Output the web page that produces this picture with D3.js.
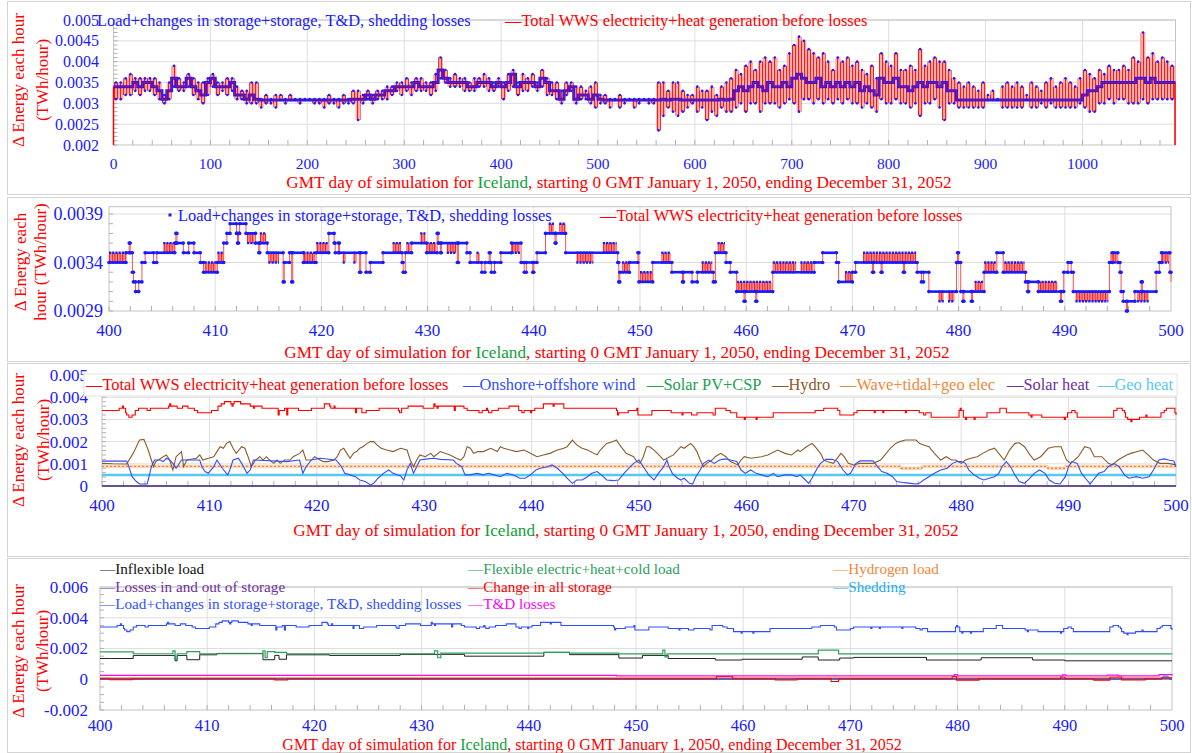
<!DOCTYPE html>
<html><head><meta charset="utf-8">
<script src="https://cdn.jsdelivr.net/npm/d3@7"></script>
<style>
body{margin:0;background:#fff}
svg{display:block}
</style></head><body>
<script>
// ================= DATA (energy values in GWh per hour; 1 GWh = 0.001 TWh) =================
// Panel 1: 5-day bins from day 0 to day 1096 — typical level, low and high of the hour values
const p1Base=[3.4,3.4,3.4,3.4,3.5,3.4,3.5,3.5,3.4,3.3,
 3.1,3.3,3.6,3.4,3.4,3.6,3.4,3.3,3.2,3.5,
 3.6,3.4,3.4,3.4,3.5,3.2,3.2,3.1,3.2,3.1,
 3.08,3.08,3.08,3.08,3.08,3.08,3.08,3.08,3.08,3.08,
 3.08,3.08,3.08,3.08,3.08,3.08,3.08,3.08,3.08,3.1,
 3.1,3.1,3.2,3.1,3.2,3.2,3.3,3.3,3.4,3.4,
 3.4,3.4,3.5,3.4,3.4,3.4,3.5,3.8,3.6,3.5,
 3.5,3.5,3.5,3.4,3.4,3.5,3.5,3.5,3.4,3.5,
 3.4,3.5,3.7,3.4,3.5,3.5,3.5,3.4,3.6,3.5,
 3.3,3.3,3.1,3.3,3.4,3.1,3.2,3.2,3.1,3.2,
 3.1,3.08,3.08,3.08,3.08,3.08,3.08,3.08,3.08,3.08,
 3.08,3.08,3.08,3.1,3.08,3.1,3.1,3.08,3.08,3.08,
 3.08,3.08,3.08,3.08,3.08,3.1,3.08,3.1,3.3,3.4,
 3.3,3.4,3.5,3.4,3.3,3.5,3.4,3.4,3.5,3.4,
 3.6,3.7,3.6,3.5,3.5,3.6,3.4,3.5,3.4,3.5,
 3.4,3.5,3.4,3.5,3.3,3.4,3.3,3.2,3.6,3.5,
 3.5,3.6,3.4,3.4,3.3,3.4,3.5,3.4,3.5,3.5,
 3.4,3.5,3.3,3.3,3.08,3.08,3.08,3.08,3.08,3.08,
 3.08,3.08,3.08,3.08,3.08,3.08,3.08,3.08,3.08,3.08,
 3.08,3.08,3.08,3.08,3.08,3.08,3.08,3.08,3.08,3.08,
 3.2,3.3,3.3,3.4,3.5,3.5,3.5,3.5,3.5,3.5,
 3.5,3.6,3.6,3.5,3.6,3.5,3.5,3.5,3.5];
const p1Lo=[3.1,3.1,3.2,3.2,3.3,3.2,3.3,3.3,3.2,3.1,
 3.0,3.1,3.4,3.3,3.3,3.4,3.2,3.1,3.0,3.2,
 3.4,3.2,3.3,3.2,3.3,3.1,3.1,3.0,3.0,3.0,
 2.9,3.0,3.0,2.9,3.08,3.0,3.08,3.08,3.0,3.08,
 3.08,3.0,3.0,2.9,3.0,3.0,2.9,3.0,3.0,3.0,
 2.6,3.0,3.1,3.0,3.1,3.1,3.1,3.2,3.3,3.2,
 3.3,3.2,3.3,3.3,3.3,3.2,3.3,3.6,3.5,3.4,
 3.4,3.4,3.3,3.3,3.3,3.4,3.4,3.3,3.3,3.4,
 3.1,3.3,3.4,3.2,3.3,3.3,3.4,3.3,3.4,3.2,
 3.2,3.1,3.0,3.2,3.3,3.0,3.1,3.1,3.0,2.9,
 3.0,3.0,2.9,3.08,2.9,3.0,3.08,2.9,3.0,3.08,
 3.0,3.0,2.35,2.7,2.9,2.8,2.7,2.8,2.9,3.0,
 2.8,2.9,2.6,2.8,2.7,2.9,2.8,2.8,2.9,3.0,
 2.8,3.0,3.0,2.8,3.0,3.0,3.0,2.9,3.0,3.1,
 3.0,2.8,3.1,3.1,3.0,3.1,3.0,3.1,3.0,3.1,
 3.0,3.1,3.0,3.0,2.9,3.0,2.9,2.8,3.1,3.0,
 3.0,3.1,3.0,3.0,2.9,3.0,2.7,3.0,3.0,3.1,
 2.9,2.6,3.0,3.0,2.9,2.9,2.9,2.9,2.9,2.9,
 3.08,3.08,3.08,2.9,2.9,2.9,2.9,2.9,3.08,2.9,
 2.9,3.0,2.9,3.0,2.9,2.9,2.9,2.9,2.9,3.0,
 2.9,2.8,2.8,3.0,3.0,3.1,3.0,3.1,3.1,3.0,
 3.0,3.0,3.1,3.0,3.1,3.1,3.1,3.1,3.1];
const p1Hi=[3.5,3.5,3.6,3.7,3.6,3.6,3.6,3.6,3.6,3.5,
 3.2,3.5,3.9,3.6,3.5,3.7,3.6,3.5,3.5,3.6,
 3.7,3.5,3.5,3.6,3.6,3.4,3.3,3.3,3.5,3.5,
 3.1,3.2,3.1,3.2,3.2,3.1,3.2,3.1,3.1,3.1,
 3.1,3.1,3.1,3.1,3.2,3.1,3.1,3.2,3.1,3.3,
 3.3,3.2,3.3,3.2,3.3,3.3,3.4,3.4,3.5,3.5,
 3.6,3.5,3.6,3.6,3.5,3.5,3.7,4.1,3.8,3.6,
 3.7,3.6,3.6,3.5,3.6,3.6,3.7,3.6,3.5,3.6,
 3.5,3.7,3.8,3.5,3.7,3.6,3.7,3.5,3.8,3.6,
 3.5,3.5,3.3,3.5,3.5,3.4,3.4,3.3,3.4,3.5,
 3.2,3.2,3.1,3.1,3.2,3.1,3.1,3.1,3.1,3.1,
 3.1,3.1,3.5,3.5,3.3,3.5,3.5,3.3,3.2,3.2,
 3.4,3.3,3.3,3.4,3.2,3.4,3.5,3.6,3.8,3.7,
 3.9,4.0,3.8,4.0,4.1,4.0,4.1,3.8,3.9,4.2,
 4.4,4.6,4.5,4.3,4.2,4.1,4.2,4.0,3.8,4.1,
 4.0,4.1,3.9,4.0,3.8,3.7,3.9,3.6,4.2,4.0,
 3.9,4.2,3.8,3.8,3.9,3.8,4.3,3.9,4.0,4.1,
 4.0,4.0,3.8,3.6,3.5,3.4,3.5,3.4,3.3,3.5,
 3.2,3.3,3.1,3.4,3.5,3.4,3.5,3.4,3.2,3.5,
 3.4,3.3,3.5,3.6,3.4,3.5,3.6,3.5,3.4,3.6,
 3.8,3.7,3.6,3.8,3.7,3.9,3.8,3.8,3.9,3.8,
 4.1,4.0,4.7,4.1,4.2,4.0,4.1,4.0,3.9];
const p1EndDrops=[[0,2.0],[1095.5,2.0]];
const p1XTicks=[0,100,200,300,400,500,600,700,800,900,1000];
const p1YTicks=[0.002,0.0025,0.003,0.0035,0.004,0.0045,0.005];

// Panel 2 (also the red line of panel 3 and blue line of panel 4): [day, level]
const p2Steps=[[400.0,3.4],[401.6,3.5],[401.9,3.6],[402.0,3.5],[402.2,3.3],[402.3,3.2],[402.5,3.1],[402.8,3.2],[403.1,3.4],[403.4,3.5],
 [404.2,3.4],[404.5,3.5],[406.2,3.6],[406.3,3.7],[406.4,3.6],[407.0,3.5],[407.5,3.6],[408.0,3.5],[408.6,3.4],[408.9,3.3],
 [410.2,3.4],[410.8,3.6],[411.1,3.7],[411.4,3.8],[412.0,3.7],[412.1,3.6],[412.2,3.7],[412.3,3.8],[412.9,3.7],[413.8,3.6],
 [414.1,3.5],[414.2,3.6],[414.9,3.5],[416.4,3.2],[416.5,3.4],[417.0,3.5],[417.2,3.2],[417.3,3.5],[418.3,3.4],[419.5,3.5],
 [420.7,3.7],[421.2,3.6],[421.3,3.5],[421.6,3.6],[421.7,3.5],[423.6,3.3],[423.7,3.5],[424.2,3.3],[424.6,3.4],[425.8,3.5],
 [427.6,3.4],[427.7,3.3],[427.9,3.5],[428.5,3.6],[429.9,3.5],[430.9,3.7],[431.0,3.6],[431.2,3.5],[431.3,3.6],[432.8,3.4],
 [432.9,3.6],[433.7,3.5],[434.0,3.4],[435.1,3.3],[435.4,3.4],[435.8,3.5],[435.9,3.4],[436.0,3.3],[436.3,3.4],[436.9,3.5],
 [437.9,3.6],[438.8,3.4],[439.1,3.3],[439.3,3.4],[439.9,3.3],[440.0,3.4],[440.3,3.5],[441.1,3.7],[442.0,3.6],[442.1,3.7],
 [443.0,3.5],[447.9,3.4],[448.0,3.2],[448.1,3.3],[449.0,3.4],[449.8,3.5],[449.9,3.2],[451.2,3.4],[453.0,3.3],[454.0,3.2],
 [454.1,3.3],[454.9,3.2],[455.4,3.3],[456.9,3.2],[457.1,3.5],[458.1,3.4],[458.5,3.3],[459.1,3.1],[459.8,3.0],[459.9,3.1],
 [460.9,3.0],[461.0,3.1],[462.5,3.3],[466.4,3.4],[467.2,3.5],[468.5,3.4],[468.7,3.2],[470.0,3.3],[470.3,3.4],[471.9,3.3],
 [472.0,3.4],[472.7,3.3],[472.8,3.4],[474.8,3.3],[474.9,3.4],[476.1,3.3],[476.5,3.2],[476.7,3.3],[477.2,3.1],[479.8,3.4],
 [479.9,3.5],[480.0,3.4],[480.2,3.1],[480.4,3.0],[480.5,3.1],[481.2,3.0],[481.3,3.1],[482.4,3.3],[483.6,3.5],[484.2,3.3],
 [486.3,3.2],[486.5,3.1],[486.6,3.2],[487.5,3.1],[489.6,3.0],[489.7,3.1],[489.9,3.3],[490.3,3.4],[490.6,3.3],[490.8,3.1],
 [494.2,3.4],[494.5,3.5],[495.0,3.4],[495.2,3.3],[495.3,3.1],[495.5,3.0],[495.8,2.9],[495.9,3.0],[496.6,3.1],[497.2,3.2],
 [497.3,3.1],[498.6,3.3],[498.9,3.4],[499.1,3.5],[499.9,3.3],[500.0,3.2]];
// hour-to-hour flicker between two levels: [from day, to day, low, high]
const p2Flicker=[[400.0,401.6,3.4,3.5],[405.1,406.2,3.5,3.6],[409.0,410.1,3.3,3.4],[410.2,410.8,3.4,3.5],[413.0,413.7,3.6,3.7],
 [414.2,414.8,3.6,3.7],[415.0,416.0,3.4,3.5],[418.3,419.4,3.4,3.5],[419.5,420.6,3.5,3.6],[422.0,422.3,3.4,3.5],
 [423.0,423.3,3.4,3.5],[426.7,427.5,3.5,3.6],[428.0,428.4,3.5,3.6],[429.3,429.8,3.6,3.7],[429.9,430.8,3.5,3.6],
 [431.8,432.7,3.5,3.6],[434.6,434.9,3.4,3.5],[437.9,438.7,3.5,3.6],[441.4,441.9,3.7,3.8],[442.4,443.0,3.7,3.8],
 [444.0,445.6,3.4,3.5],[446.5,447.8,3.5,3.6],[448.3,449.0,3.3,3.4],[450.0,451.2,3.2,3.3],[452.0,452.9,3.4,3.5],
 [455.8,456.8,3.3,3.4],[457.3,458.0,3.5,3.6],[459.1,462.4,3.1,3.2],[462.5,464.7,3.3,3.4],[465.1,466.3,3.3,3.4],
 [469.3,470.0,3.2,3.3],[471.0,476.0,3.4,3.5],[478.1,478.6,3.0,3.1],[479.0,479.6,3.0,3.1],[481.5,482.3,3.1,3.2],
 [482.4,483.5,3.3,3.4],[484.3,486.2,3.3,3.4],[487.5,489.3,3.1,3.2],[491.0,494.1,3.0,3.1],[494.3,494.9,3.4,3.5],
 [496.8,497.9,3.0,3.1],[499.1,499.8,3.4,3.5]];
const dayTicks=[400,410,420,430,440,450,460,470,480,490,500];
const p2YTicks=[0.0029,0.0034,0.0039];

// Panel 3: generation by source [day, GWh]
const hydro=[[400.0,1.02],[401.0,1.0],[402.3,0.99],[402.9,1.47],[403.5,2.07],[403.9,2.1],[404.3,1.62],[404.6,1.17],[404.8,0.87],[405.0,1.1],
 [405.7,1.32],[406.0,1.4],[406.3,1.17],[406.6,0.72],[406.9,1.32],[407.4,1.55],[407.6,0.87],[407.9,1.17],[408.8,1.25],[409.1,1.4],
 [409.4,1.17],[409.9,1.25],[410.4,1.32],[410.7,1.55],[411.0,1.77],[411.3,1.7],[411.6,1.92],[411.9,2.0],[412.2,1.7],[412.5,1.47],
 [413.0,1.77],[413.3,1.7],[413.6,1.32],[413.9,0.87],[414.3,1.17],[414.7,1.32],[415.0,1.17],[415.3,1.32],[415.6,1.17],[416.0,1.02],
 [416.3,1.17],[416.6,1.02],[417.0,1.17],[417.5,1.17],[417.8,1.32],[418.4,1.47],[418.7,1.62],[419.0,1.17],[419.5,1.17],[419.8,1.32],
 [420.3,1.17],[420.6,1.1],[421.0,1.1],[421.6,1.17],[421.9,1.32],[422.2,1.62],[422.5,1.7],[422.8,1.47],[423.1,1.25],[423.4,1.47],
 [423.7,1.55],[424.0,1.7],[424.3,1.77],[424.7,1.92],[425.0,2.0],[425.3,2.0],[425.6,1.85],[426.0,1.7],[426.5,1.62],[427.1,1.55],
 [427.8,1.7],[428.4,1.62],[428.7,1.17],[429.0,0.87],[429.3,1.17],[429.6,1.4],[430.1,1.32],[430.6,1.47],[430.9,1.32],[431.5,1.55],
 [432.4,1.4],[433.0,1.25],[433.4,1.17],[433.7,1.32],[434.0,1.77],[434.3,1.7],[434.6,1.47],[435.0,1.55],[435.5,1.55],[436.2,1.7],
 [436.8,1.55],[437.1,1.77],[437.4,1.7],[438.0,1.62],[438.6,1.55],[439.3,1.62],[440.2,1.4],[440.5,1.32],[441.1,1.4],[441.7,1.47],
 [442.4,1.62],[443.0,1.7],[443.3,1.77],[443.8,2.07],[444.2,1.85],[444.7,1.7],[445.2,1.62],[445.8,1.47],[446.1,1.4],[446.4,1.62],
 [446.7,1.77],[447.0,1.92],[447.6,2.0],[447.9,2.07],[448.2,1.85],[448.8,1.47],[449.5,1.32],[449.8,1.1],[450.1,1.02],[450.4,1.32],
 [450.7,1.77],[451.0,1.77],[451.4,1.62],[452.0,1.32],[452.3,1.17],[452.6,1.25],[453.2,1.4],[453.9,1.77],[454.2,1.7],[454.8,1.92],
 [455.1,1.77],[455.4,1.55],[455.7,1.17],[456.0,0.87],[456.3,1.02],[456.8,1.17],[457.1,1.32],[457.6,1.47],[458.1,1.32],[458.5,1.1],
 [459.2,0.95],[459.5,1.17],[459.8,1.32],[460.4,1.25],[461.4,1.32],[462.0,1.4],[462.9,1.62],[463.6,1.47],[464.2,1.4],[464.8,1.62],
 [465.0,1.55],[465.6,1.77],[466.1,1.92],[466.4,1.77],[466.9,1.47],[467.2,1.17],[467.5,1.1],[468.1,1.02],[468.8,1.47],[469.1,1.32],
 [469.5,1.02],[470.0,0.95],[470.5,1.02],[471.2,1.02],[471.8,1.02],[472.5,1.17],[472.9,1.4],[473.4,1.7],[473.9,1.92],[474.3,2.0],
 [474.8,2.07],[475.3,2.07],[475.8,2.07],[476.1,1.92],[476.5,1.85],[477.0,1.77],[477.5,1.47],[478.1,1.17],[478.6,1.32],[479.1,1.17],
 [479.5,1.17],[480.0,1.02],[480.4,1.17],[480.9,1.25],[481.5,1.32],[482.0,1.47],[482.6,1.62],[483.1,1.7],[483.5,1.47],[484.0,1.17],
 [484.5,1.62],[485.0,1.92],[485.4,1.95],[485.9,1.77],[486.4,1.4],[486.8,1.17],[487.4,1.32],[488.1,1.7],[488.7,1.77],[489.3,1.77],
 [489.8,1.17],[490.2,1.02],[490.9,1.32],[491.5,1.77],[492.0,1.7],[492.4,1.32],[493.1,1.32],[493.7,1.02],[494.1,0.95],[494.6,1.17],
 [495.4,1.4],[495.8,1.47],[496.4,1.55],[496.9,1.62],[497.4,1.4],[497.9,1.17],[498.5,1.02],[499.3,1.02],[500.0,0.95]];
const wind=[[400.0,1.12],[402.3,1.12],[402.5,0.87],[402.8,0.42],[403.2,0.2],[403.5,0.09],[404.2,0.09],[404.3,0.27],[404.6,0.87],[404.9,1.17],
 [405.4,1.17],[405.7,1.1],[406.0,1.25],[406.3,1.17],[406.6,1.02],[406.9,0.8],[407.4,1.17],[409.1,1.17],[409.3,0.87],[409.6,0.65],
 [409.9,0.57],[410.4,0.87],[410.7,1.17],[411.2,0.8],[411.7,0.5],[411.9,0.72],[412.2,1.17],[412.7,1.25],[413.0,1.02],[413.5,0.57],
 [413.8,0.72],[414.1,1.17],[417.2,1.1],[418.4,1.17],[418.7,0.57],[419.0,0.87],[419.5,1.17],[420.3,1.25],[421.8,1.17],[422.3,0.87],
 [422.6,0.57],[423.1,0.5],[423.6,0.42],[424.0,0.27],[424.5,0.2],[425.0,0.05],[425.3,0.12],[425.7,0.35],[426.2,0.57],[426.7,0.72],
 [427.1,0.57],[427.8,0.45],[428.1,0.27],[428.4,0.72],[428.7,1.02],[429.0,0.57],[429.3,0.87],[429.6,1.17],[430.3,1.22],[430.9,1.25],
 [431.5,1.2],[432.7,1.17],[433.0,1.02],[433.5,0.87],[433.8,0.5],[434.3,0.5],[434.9,0.57],[435.5,0.5],[436.0,0.57],[436.5,0.5],
 [437.1,0.42],[437.7,0.57],[438.3,0.5],[438.9,0.35],[439.4,0.35],[439.9,0.5],[440.4,0.72],[440.8,0.8],[441.5,0.87],[441.9,0.95],
 [442.4,0.8],[442.9,0.57],[443.3,0.35],[443.8,0.12],[444.2,0.27],[444.7,0.27],[445.2,0.42],[445.6,0.57],[446.1,0.65],[446.5,0.5],
 [447.0,0.27],[447.6,0.24],[448.1,0.27],[448.6,0.57],[449.2,0.87],[449.5,1.02],[450.0,1.17],[450.4,0.87],[450.9,0.5],[451.4,0.27],
 [451.8,0.57],[452.3,0.87],[452.6,1.17],[452.8,0.87],[453.1,0.57],[453.6,0.35],[453.9,0.27],[454.2,0.35],[454.7,0.12],[455.0,0.09],
 [455.3,0.42],[455.7,0.72],[456.0,1.02],[456.5,1.17],[457.0,1.02],[457.5,1.17],[458.0,1.22],[458.5,1.17],[459.1,1.1],[459.5,0.72],
 [459.9,0.57],[460.4,0.72],[460.9,0.57],[461.4,0.5],[462.0,0.42],[462.5,0.57],[462.9,0.42],[463.6,0.5],[464.2,0.5],[464.7,0.42],
 [465.0,0.5],[465.5,0.27],[465.8,0.12],[466.1,0.35],[466.6,0.8],[466.9,1.02],[467.4,1.2],[468.0,1.2],[468.5,1.1],[469.0,0.72],
 [469.4,0.5],[469.7,0.57],[470.2,1.02],[470.6,1.13],[471.8,1.14],[472.2,0.87],[472.6,0.65],[473.1,0.57],[473.6,0.42],[474.0,0.2],
 [474.7,0.15],[475.3,0.12],[475.8,0.09],[476.1,0.12],[476.5,0.27],[477.0,0.42],[477.5,0.57],[478.1,0.72],[478.7,0.8],[479.2,1.02],
 [479.6,1.1],[480.0,1.1],[480.4,1.02],[480.7,0.72],[481.2,0.5],[481.7,0.35],[482.1,0.27],[482.6,0.35],[483.1,0.42],[483.5,0.57],
 [483.8,0.87],[484.2,1.1],[484.6,0.87],[485.0,0.5],[485.4,0.2],[485.9,0.12],[486.4,0.35],[486.8,0.57],[487.3,0.72],[487.8,0.57],
 [488.2,0.27],[488.7,0.12],[489.2,0.09],[489.7,0.42],[490.0,0.87],[490.3,1.1],[490.8,1.02],[491.2,0.57],[491.7,0.27],[492.0,0.09],
 [492.3,0.27],[492.8,0.57],[493.3,0.65],[493.7,0.87],[494.2,1.02],[494.7,0.87],[495.2,0.5],[495.6,0.35],[496.3,0.42],[496.9,0.35],
 [497.5,0.42],[497.9,0.72],[498.4,1.17],[498.9,1.22],[499.3,1.17],[499.8,1.13],[500.0,0.87]];
const waveTidalGeo=[[400,0.88],[474.3,0.88],[474.4,0.8],[476.3,0.8],[476.4,0.88],[488.0,0.88],[488.1,0.8],[489.6,0.8],[489.7,0.88],[500,0.88]];
const geoHeat=[[400,0.5],[500,0.5]];
const solarHeat=[[400,0],[500,0]];
const solarPV=[[400,0],[500,0]];
const p3YTicks=[0,0.001,0.002,0.003,0.004,0.005];

// Panel 4: loads and losses [day, GWh]
const inflexLoad=[[400,1.35],[400.9,1.35],[403.1,1.55],[406.8,1.55],[407.0,1.2],[407.2,1.55],[408.1,1.27],[409.3,1.59],[410.9,1.68],
 [415.2,1.27],[416.3,1.55],[416.7,1.3],[417.4,1.59],[421.4,1.55],[428,1.62],[434,1.5],[441.4,1.75],[443.8,1.6],[448.4,1.38],
 [450.6,1.55],[453,1.35],[457.4,1.25],[459.9,1.3],[465.5,1.45],[467,1.25],[469,1.38],[470.3,1.42],[477.1,1.25],[482.2,1.4],
 [487,1.25],[490,1.2],[500,1.2]];
const flexLoad=[[400,1.78],[403.1,1.66],[406.8,1.85],[407.0,1.3],[407.2,1.66],[408.1,1.8],[409.3,1.66],[415.2,1.85],[415.4,1.4],
 [415.6,1.8],[416.3,1.75],[417.4,1.66],[431.2,1.85],[431.5,1.4],[431.8,1.7],[441.4,1.75],[443.8,1.7],[448.4,1.65],[452.5,1.9],
 [452.7,1.45],[452.9,1.65],[467.0,1.9],[468.9,1.65],[500,1.65]];
const hydrogenLoad=[[400,0.08],[500,0.08]];
const storageLosses=[[400,0.02],[500,0.02]];
const storageChange=[[400,0.03],[400.9,-0.03],[403,0.03],[416.3,-0.05],[417.5,0.03],[457.5,0.18],[459,0.03],[463,-0.05],[465,0.03],
 [468.2,-0.15],[468.9,0.03],[479.5,0.18],[479.9,-0.06],[482,0.03],[489.6,0.15],[490,0.03],[492.7,-0.06],[494.2,0.15],[495.3,-0.05],
 [497.5,0.03],[499,0.1],[500,0.1]];
const shedding=[[400,0],[499.0,0],[499.2,0.2],[499.6,0.2],[499.8,0],[500,0]];
const tdLosses=[[400,0.25],[448,0.25],[448.2,0.22],[479.5,0.22],[479.7,0.3],[480,0.22],[489.8,0.28],[490.1,0.22],[494,0.27],[495,0.22],[498.8,0.3],[500,0.25]];
const p4YTicks=[-0.002,0,0.002,0.004,0.006];

// Text
const xTitleParts=["GMT day of simulation for ","Iceland",", starting 0 GMT January 1, 2050, ending December 31, 2052"];
const loadName="Load+changes in storage+storage, T&D, shedding losses";
const genName="Total WWS electricity+heat generation before losses";

// ================= DRAWING =================
const FONT='"Liberation Serif","Times New Roman",Times,serif';
const C={red:"#ff0000",blue:"#1a1aff",tick:"#1a1aff",green:"#12a03c",grid:"#dedede",frame:"#c4c4c4",
 brown:"#8b5a2b",orange:"#f0883a",purple:"#7030a0",geo:"#55c8f5",pv:"#22a050",flex:"#2ca05a",magenta:"#ff00ff",shed:"#1ab0f0",wind:"#2f4fff"};
const G=v=>v/1000; // GWh -> TWh
const W=1192,H=753;
const svg=d3.select("body").append("svg").attr("width",W).attr("height",H).style("font-family",FONT);
svg.append("rect").attr("width",W).attr("height",H).attr("fill","#fff");
const defs=svg.append("defs");
function hatch(id,w,bg,fg,sw){
  const p=defs.append("pattern").attr("id",id).attr("patternUnits","userSpaceOnUse").attr("width",w).attr("height",8);
  p.append("rect").attr("width",w).attr("height",8).attr("fill",bg);
  p.append("rect").attr("width",sw).attr("height",8).attr("fill",fg);
}
hatch("hatch",2.6,"#ff9c9c","#ff1010",1.1);
hatch("hatch1",3,"#ffb4b4","#ff1a1a",1.1);

// panel borders
[[7,1,1190,194],[7,197,1190,361],[7,363,1190,556],[7,558,1190,752]].forEach(b=>
 svg.append("rect").attr("x",b[0]+0.5).attr("y",b[1]+0.5).attr("width",b[2]-b[0]).attr("height",b[3]-b[1]).attr("fill","none").attr("stroke","#d4d4d4"));

const fmtNum=v=>String(+v.toFixed(5));
function frame(c){
  const g=svg.append("g");
  const [L,R]=c.x.range(), [B,T]=c.y.range();
  g.selectAll("line.gx").data(c.xGrid).join("line").attr("class","gx").attr("x1",d=>c.x(d)).attr("x2",d=>c.x(d)).attr("y1",T).attr("y2",B).attr("stroke",C.grid);
  g.selectAll("line.gy").data(c.yGrid).join("line").attr("class","gy").attr("x1",L).attr("x2",R).attr("y1",d=>c.y(d)).attr("y2",d=>c.y(d)).attr("stroke",C.grid);
  g.append("rect").attr("x",L).attr("y",T).attr("width",R-L).attr("height",B-T).attr("fill","none").attr("stroke",C.frame);
  g.selectAll("line.mx").data(c.xMinor).join("line").attr("class","mx").attr("x1",d=>c.x(d)).attr("x2",d=>c.x(d)).attr("y1",B).attr("y2",B-5).attr("stroke","#b0b0b0");
  g.selectAll("line.my").data(c.yMinor).join("line").attr("class","my").attr("x1",L).attr("x2",L+4).attr("y1",d=>c.y(d)).attr("y2",d=>c.y(d)).attr("stroke","#b0b0b0");
  g.selectAll("text.tx").data(c.xTicks).join("text").attr("class","tx").attr("x",d=>c.x(d)).attr("y",c.xLabelY).attr("text-anchor","middle")
    .attr("font-size",c.xSize).attr("fill",C.tick).text(d=>d);
  g.selectAll("text.ty").data(c.yTicks).join("text").attr("class","ty").attr("x",c.yLabelX).attr("y",d=>c.y(d)).attr("dy","0.35em").attr("text-anchor","end")
    .attr("font-size",c.ySize).attr("fill",C.tick).text(fmtNum);
}
function xTitle(cx,y,size){
  const t=svg.append("text").attr("x",cx).attr("y",y).attr("text-anchor","middle").attr("font-size",size);
  xTitleParts.forEach((s,i)=>t.append("tspan").attr("fill",i===1?C.green:C.red).text(s));
}
function yTitle(lines,xs,cy,size){
  lines.forEach((s,i)=>svg.append("text").attr("transform",`translate(${xs[i]},${cy}) rotate(-90)`).attr("text-anchor","middle")
    .attr("dy","0.35em").attr("font-size",size).attr("fill",C.red).text(s));
}
function legend(x,y,s,color,size,dash=true){
  svg.append("text").attr("x",x).attr("y",y).attr("font-size",size).attr("fill",color).text((dash?"—":"")+s);
}
function pathOf(data,x,y,color,width,opts={}){
  const ln=d3.line().x(d=>x(d[0])).y(d=>y(G(d[1])));
  if(opts.step) ln.curve(d3.curveStepAfter);
  const p=svg.append("path").attr("d",ln(data)).attr("fill","none").attr("stroke",color).attr("stroke-width",width);
  if(opts.dash) p.attr("stroke-dasharray",opts.dash);
  if(opts.op) p.attr("stroke-opacity",opts.op);
  return p;
}

// ---------- Panel 1 ----------
const x1=d3.scaleLinear([0,1096],[113.5,1175.5]);
const y1=d3.scaleLinear([0.002,0.005],[145,20]);
frame({x:x1,y:y1,xTicks:p1XTicks,yTicks:p1YTicks,xGrid:p1XTicks.slice(1),yGrid:p1YTicks.slice(1),
  xMinor:d3.range(0,1096,20),yMinor:d3.range(0.002,0.005,0.0001),xLabelY:169,yLabelX:99,xSize:15.5,ySize:16});
const bins=p1Base.map((b,i)=>({d0:i*5,b,lo:p1Lo[i],hi:p1Hi[i]}));
const last=bins[bins.length-1];
const bandData=bins.concat([{d0:1096,b:last.b,lo:last.lo,hi:last.hi}]);
svg.append("path").attr("d",d3.area().x(d=>x1(d.d0)).y0(d=>y1(G(d.lo))).y1(d=>y1(G(d.hi))).curve(d3.curveStepAfter)(bandData))
  .attr("fill","url(#hatch1)");
p1EndDrops.forEach(([d,v],i)=>svg.append("line").attr("x1",x1(d)).attr("x2",x1(d)).attr("y1",y1(G(bins[i?bins.length-1:0].b))).attr("y2",y1(G(v)))
  .attr("stroke",C.red).attr("stroke-width",1.5));
svg.append("path").attr("d",d3.line().x(d=>x1(d.d0)).y(d=>y1(G(d.b))).curve(d3.curveStepAfter)(bandData))
  .attr("fill","none").attr("stroke",C.blue).attr("stroke-width",3);
svg.append("path").attr("d",d3.line().x(d=>x1(d.d0)).y(d=>y1(G(d.b))).curve(d3.curveStepAfter)(bandData))
  .attr("fill","none").attr("stroke",C.red).attr("stroke-width",0.7);
svg.append("g").selectAll("circle").data(bins.flatMap(k=>[[k.d0+2.5,k.lo],[k.d0+2.5,k.hi]])).join("circle")
  .attr("cx",d=>x1(d[0])).attr("cy",d=>y1(G(d[1]))).attr("r",1.3).attr("fill",C.blue);
legend(97,26,loadName,C.blue,16.4,false);
legend(505,26,genName,C.red,16.4);
xTitle(619,188,17.2);
yTitle(["Δ Energy each hour","(TWh/hour)"],[18,42],80,17);

// ---------- Panel 2 ----------
const x2=d3.scaleLinear([400,500],[109,1171]);
const y2=d3.scaleLinear([0.0029,0.003975],[311,206.7]);
frame({x:x2,y:y2,xTicks:dayTicks,yTicks:p2YTicks,xGrid:dayTicks.slice(1,-1),yGrid:[0.0034,0.0039],
  xMinor:d3.range(400,500,2),yMinor:d3.range(0.0029,0.00397,0.0001),xLabelY:336,yLabelX:103,xSize:17,ySize:18});
svg.append("g").selectAll("rect").data(p2Flicker).join("rect")
  .attr("x",d=>x2(d[0])).attr("width",d=>x2(d[1])-x2(d[0])).attr("y",d=>y2(G(d[3]))).attr("height",d=>y2(G(d[2]))-y2(G(d[3])))
  .attr("fill","url(#hatch)");
svg.append("g").selectAll("line").data(p2Flicker.flatMap(d=>[[d[0],d[1],d[2]],[d[0],d[1],d[3]]])).join("line")
  .attr("x1",d=>x2(d[0])).attr("x2",d=>x2(d[1])).attr("y1",d=>y2(G(d[2]))).attr("y2",d=>y2(G(d[2])))
  .attr("stroke",C.blue).attr("stroke-width",2.4).attr("stroke-dasharray","2.2,1");
pathOf(p2Steps,x2,y2,"#ff5050",1,{step:true});
const segs=p2Steps.slice(0,-1).map((d,i)=>[d[0],p2Steps[i+1][0],d[1]]);
svg.append("g").selectAll("line").data(segs).join("line")
  .attr("x1",d=>x2(d[0])).attr("x2",d=>x2(d[1])).attr("y1",d=>y2(G(d[2]))).attr("y2",d=>y2(G(d[2])))
  .attr("stroke",C.blue).attr("stroke-width",2.6);
svg.append("g").selectAll("circle").data(segs.flatMap(s=>[[s[0],s[2]],[s[1],s[2]]])).join("circle")
  .attr("cx",d=>x2(d[0])).attr("cy",d=>y2(G(d[1]))).attr("r",1.8).attr("fill",C.blue);
svg.append("rect").attr("x",168.5).attr("y",213.5).attr("width",3).attr("height",3).attr("fill",C.blue);
legend(178,221,loadName,C.blue,16.4,false);
legend(600,221,genName,C.red,16.4);
xTitle(617,358,17.2);
yTitle(["Δ Energy each","hour (TWh/hour)"],[20,40],262,17);

// ---------- Panel 3 ----------
const x3=d3.scaleLinear([400,500],[102,1176]);
const y3=d3.scaleLinear([0,0.005],[486,375]);
frame({x:x3,y:y3,xTicks:dayTicks,yTicks:p3YTicks,xGrid:dayTicks.slice(1,-1),yGrid:p3YTicks.slice(1),
  xMinor:d3.range(400,500,2),yMinor:d3.range(0,0.005,0.0002),xLabelY:511,yLabelX:88,xSize:17,ySize:17});
pathOf(geoHeat,x3,y3,C.geo,2.5);
pathOf(waveTidalGeo,x3,y3,"#f8c8a0",3.5,{op:0.7});
pathOf(waveTidalGeo,x3,y3,C.orange,1.3,{dash:"2,2"});
pathOf(hydro,x3,y3,C.brown,1.1);
pathOf(wind,x3,y3,C.wind,1.1);
pathOf(solarPV,x3,y3,C.pv,1.5);
pathOf(solarHeat,x3,y3,C.purple,1.6);
pathOf(p2Steps,x3,y3,C.red,1.1,{step:true});
svg.append("rect").attr("x",84).attr("y",374).attr("width",1093).attr("height",22).attr("fill","#fff").attr("stroke","#e4e4e4");
[[86,genName,C.red],[463,"Onshore+offshore wind",C.wind],[647,"Solar PV+CSP",C.pv],[772,"Hydro",C.brown],
 [840,"Wave+tidal+geo elec",C.orange],[1007,"Solar heat",C.purple],[1098,"Geo heat",C.geo]]
 .forEach(l=>legend(l[0],390,l[1],l[2],16.4));
xTitle(626,536,17.2);
yTitle(["Δ Energy each hour","(TWh/hour)"],[18,43],440,17);

// ---------- Panel 4 ----------
const x4=d3.scaleLinear([400,500],[100,1172]);
const y4=d3.scaleLinear([-0.002,0.006],[710,587]);
frame({x:x4,y:y4,xTicks:dayTicks,yTicks:p4YTicks,xGrid:dayTicks.slice(1,-1),yGrid:p4YTicks.slice(1),
  xMinor:d3.range(400,500,2),yMinor:d3.range(-0.002,0.006,0.0005),xLabelY:731,yLabelX:88,xSize:16.5,ySize:17});
pathOf(shedding,x4,y4,C.shed,1.5);
pathOf(hydrogenLoad,x4,y4,C.orange,1.3);
pathOf(storageLosses,x4,y4,C.purple,1.2);
pathOf(storageChange,x4,y4,C.red,1.1,{step:true});
pathOf(tdLosses,x4,y4,C.magenta,1.2,{step:true});
pathOf(inflexLoad,x4,y4,"#222",1,{step:true});
pathOf(flexLoad,x4,y4,C.flex,1.2,{step:true});
pathOf(p2Steps,x4,y4,C.wind,1.1,{step:true});
[[100,574,"Inflexible load","#111"],[468,574,"Flexible electric+heat+cold load",C.flex],[833,574,"Hydrogen load",C.orange],
 [100,592,"Losses in and out of storage",C.purple],[468,592,"Change in all storage",C.red],[833,592,"Shedding",C.shed],
 [100,609,loadName,C.wind],[468,609,"T&D losses",C.magenta]]
 .forEach(l=>legend(l[0],l[1],l[2],l[3],15.2));
xTitle(592,749.5,16);
yTitle(["Δ Energy each hour","(TWh/hour)"],[18,42],651,17);
</script>
</body></html>
